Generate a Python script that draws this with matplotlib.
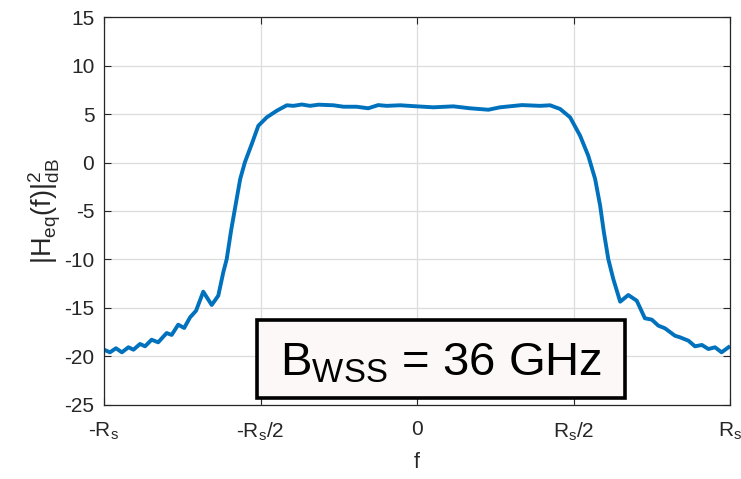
import numpy as np
import matplotlib
matplotlib.use('Agg')
import matplotlib.pyplot as plt
from matplotlib.patches import Rectangle

plt.rcParams['font.family'] = ['Liberation Sans', 'DejaVu Sans']
plt.rcParams['mathtext.default'] = 'regular'
plt.rcParams['mathtext.fontset'] = 'custom'
plt.rcParams['mathtext.rm'] = 'Liberation Sans'
plt.rcParams['mathtext.it'] = 'Liberation Sans'
plt.rcParams['axes.unicode_minus'] = False

# frequency in units of Rs, response in dB
freq = [-1.000, -0.981, -0.962, -0.943, -0.922, -0.906, -0.885, -0.869, -0.848, -0.827,
        -0.800, -0.784, -0.763, -0.744, -0.725, -0.706, -0.683, -0.656, -0.635, -0.619,
        -0.608, -0.594, -0.581, -0.565, -0.550, -0.528, -0.507, -0.480, -0.448, -0.416,
        -0.395, -0.368, -0.342, -0.315, -0.267, -0.235, -0.193, -0.156, -0.124, -0.097,
        -0.054, -0.001, 0.052, 0.116, 0.169, 0.228, 0.265, 0.335, 0.393, 0.425,
        0.457, 0.489, 0.521, 0.547, 0.569, 0.585, 0.597, 0.611, 0.627, 0.649,
        0.675, 0.702, 0.728, 0.750, 0.771, 0.792, 0.824, 0.840, 0.867, 0.888,
        0.910, 0.931, 0.952, 0.973, 0.995]
h_db = [-19.30, -19.57, -19.15, -19.57, -19.05, -19.30, -18.71, -18.95, -18.27, -18.54,
        -17.58, -17.78, -16.72, -17.06, -15.96, -15.28, -13.32, -14.69, -13.73, -11.32,
        -9.95, -7.00, -4.62, -1.70, 0.02, 1.91, 3.79, 4.66, 5.34, 5.90,
        5.84, 5.98, 5.84, 5.96, 5.90, 5.75, 5.75, 5.59, 5.92, 5.84,
        5.90, 5.79, 5.69, 5.79, 5.59, 5.44, 5.69, 5.92, 5.84, 5.90,
        5.52, 4.66, 2.76, 0.70, -1.70, -4.45, -7.20, -9.95, -12.01, -14.35,
        -13.66, -14.25, -16.06, -16.20, -16.82, -17.09, -17.86, -18.02, -18.37, -18.95,
        -18.81, -19.23, -19.05, -19.57, -19.05]

xticks = [-1, -0.5, 0, 0.5, 1]
xticklabels = ['-$R_s$', '-$R_s$/2', '0', '$R_s$/2', '$R_s$']
yticks = [-25, -20, -15, -10, -5, 0, 5, 10, 15]

fig = plt.figure(figsize=(7.41, 4.79), dpi=100)
ax = fig.add_axes([0.1404, 0.1545, 0.8448, 0.81])

ax.plot(freq, h_db, color='#0072BD', linewidth=2.8, solid_joinstyle='round')

ax.set_xlim(-1, 1)
ax.set_ylim(-25, 15)
ax.set_xticks(xticks)
ax.set_xticklabels(xticklabels)
ax.set_yticks(yticks)
ax.grid(True, color='#dcdcdc', linewidth=0.9)
ax.set_axisbelow(True)
ax.tick_params(direction='in', length=5, width=0.8, colors='#262626',
               labelsize=15, top=True, right=True)
ax.tick_params(axis='x', pad=11)
ax.tick_params(axis='y', pad=7)
for s in ax.spines.values():
    s.set_color('#262626')
    s.set_linewidth(0.9)

ax.set_xlabel('f', fontsize=15.5, color='#262626', labelpad=7)
ax.set_ylabel('$|H_{eq}(f)|^{2}_{dB}$', fontsize=19.5, color='#262626', labelpad=1)

# label box
ax.add_patch(Rectangle((0.2444, 0.018), 0.5879, 0.201, transform=ax.transAxes,
                       facecolor='#fdf8f8', edgecolor='black', linewidth=2.6, zorder=5))
ax.text(0.281, 0.0773, 'B$_{WSS}$ = 36 GHz', transform=ax.transAxes,
        fontsize=34, ha='left', va='baseline', color='black', zorder=6)

fig.savefig('out.png', dpi=100)
